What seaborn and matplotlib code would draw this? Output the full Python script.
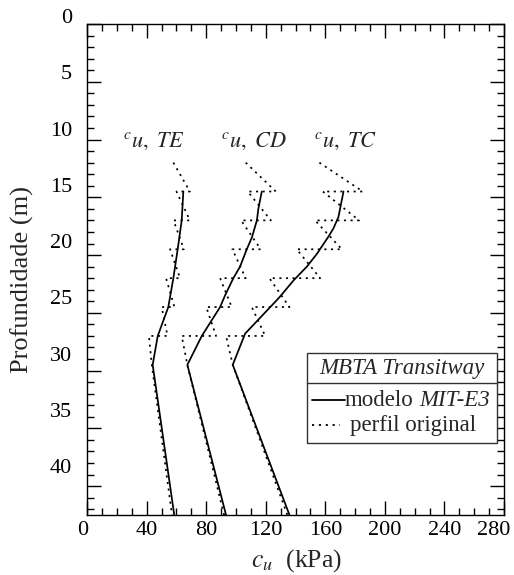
import matplotlib
matplotlib.use("Agg")
import matplotlib.pyplot as plt
import matplotlib.transforms as mtransforms
import seaborn as sns
import pandas as pd
from matplotlib.patches import Rectangle
from matplotlib.lines import Line2D
from matplotlib.ticker import MultipleLocator

# ---------------- data (cu in kPa, depth in m) ----------------
te_orig_cu = [57.9, 69.0, 60.0, 69.0, 58.0, 65.0, 55.7, 62.4, 53.0, 58.6, 50.0, 54.0, 41.5, 43.4, 57.0]
te_orig_z = [12.0, 14.5, 14.5, 17.0, 17.0, 19.5, 19.5, 22.0, 22.0, 24.5, 24.5, 27.0, 27.0, 29.5, 42.5]

cd_orig_cu = [106.5, 126.7, 107.9, 123.4, 103.4, 116.6, 97.5, 106.5, 89.3, 97.1, 80.0, 86.6, 63.5, 67.3, 92.0]
cd_orig_z = [12.0, 14.5, 14.5, 17.0, 17.0, 19.5, 19.5, 22.0, 22.0, 24.5, 24.5, 27.0, 27.0, 29.5, 42.5]

tc_orig_cu = [156.0, 185.2, 158.3, 182.7, 153.1, 171.1, 140.8, 156.5, 122.4, 135.9, 110.6, 119.6, 93.3, 97.8, 134.5]
tc_orig_z = [12.0, 14.5, 14.5, 17.0, 17.0, 19.5, 19.5, 22.0, 22.0, 24.5, 24.5, 27.0, 27.0, 29.5, 42.5]

te_mod_cu = [64.6, 63.5, 60.8, 57.9, 54.5, 47.4, 44.0, 58.5]
te_mod_z = [14.5, 17.0, 19.5, 22.0, 24.5, 27.0, 29.5, 42.5]

cd_mod_cu = [117.3, 115.0, 114.0, 110.6, 107.2, 102.7, 98.2, 92.6, 89.3, 77.0, 67.3, 93.3]
cd_mod_z = [14.5, 16.0, 17.0, 18.5, 19.5, 21.0, 22.0, 23.5, 24.5, 27.0, 29.5, 42.5]

tc_mod_cu = [172.2, 168.8, 165.4, 162.1, 154.3, 147.6, 138.6, 129.5, 127.4, 106.1, 97.8, 135.9]
tc_mod_z = [14.5, 16.7, 17.7, 18.4, 19.9, 21.0, 22.2, 23.6, 23.9, 26.8, 29.5, 42.5]

curve_labels = [r"${}^{c}u,\ TE$", r"${}^{c}u,\ CD$", r"${}^{c}u,\ TC$"]
curve_label_cu = [45.0, 112.0, 173.5]
curve_label_z = [10.2, 10.2, 10.2]

x_ticks = [0, 40, 80, 120, 160, 200, 240, 280]
y_ticks = [0, 5, 10, 15, 20, 25, 30, 35, 40]

legend_title = "MBTA Transitway"
legend_model_a = "modelo"
legend_model_b = "MIT-E3"
legend_orig = "perfil original"

x_label = r"$c_u$  (kPa)"
y_label = "Profundidade (m)"

# ---------------- style ----------------
sns.set_style("ticks")
plt.rcParams["font.family"] = ["Liberation Serif", "DejaVu Serif"]
plt.rcParams["mathtext.fontset"] = "stix"

fig = plt.figure(figsize=(5.14, 5.75), dpi=100)
ax = fig.add_axes([0.1696, 0.1043, 0.8109, 0.8540])

dotted = (0, (1.2, 2.6))
series = [
    (te_orig_cu, te_orig_z, dotted),
    (cd_orig_cu, cd_orig_z, dotted),
    (tc_orig_cu, tc_orig_z, dotted),
    (te_mod_cu, te_mod_z, "-"),
    (cd_mod_cu, cd_mod_z, "-"),
    (tc_mod_cu, tc_mod_z, "-"),
]
for cu, z, ls in series:
    df = pd.DataFrame({"cu": cu, "z": z})
    sns.lineplot(data=df, x="cu", y="z", sort=False, estimator=None,
                 color="black", linewidth=1.25, linestyle=ls, legend=False, ax=ax)

ax.set_xlim(0, 280)
ax.set_ylim(42.5, 0)
ax.set_xticks(x_ticks)
ax.set_yticks(y_ticks)
ax.xaxis.set_minor_locator(MultipleLocator(10))
ax.yaxis.set_minor_locator(MultipleLocator(1))
ax.tick_params(which="both", direction="in", top=True, right=True, colors="black")
ax.tick_params(which="major", length=10, width=1.0)
ax.tick_params(which="minor", length=5, width=1.0)
ax.tick_params(axis="x", which="major", labelsize=16, pad=4)
ax.tick_params(axis="y", which="major", labelsize=16, pad=11)
for sp in ax.spines.values():
    sp.set_linewidth(1.0)
    sp.set_color("black")

ax.set_xlabel(x_label, fontsize=18.5)
ax.set_ylabel(y_label, fontsize=19)
ax.xaxis.set_label_coords(0.503, -0.066)
ax.yaxis.set_label_coords(-0.128, 0.479)

fig.canvas.draw()
# y tick labels sit a little above their ticks in the reference
for lab, v in zip(ax.get_yticklabels(), y_ticks):
    dy = (8 + 0.3 * v) / 100.0
    lab.set_transform(lab.get_transform() + mtransforms.ScaledTranslation(0, dy, fig.dpi_scale_trans))
xl = ax.get_xticklabels()
xl[0].set_transform(xl[0].get_transform() + mtransforms.ScaledTranslation(-0.04, 0, fig.dpi_scale_trans))
xl[-1].set_transform(xl[-1].get_transform() + mtransforms.ScaledTranslation(-0.10, 0, fig.dpi_scale_trans))

for lab, xv, zv in zip(curve_labels, curve_label_cu, curve_label_z):
    ax.text(xv, zv, lab, fontsize=16, ha="center", va="center")

# ---------------- manual legend box ----------------
L, R, T, S, B = 0.527, 0.984, 0.3293, 0.2695, 0.146
ax.add_patch(Rectangle((L, B), R - L, T - B, transform=ax.transAxes,
                       facecolor="white", edgecolor="#333333", lw=1.0, zorder=5))
ax.add_line(Line2D([L, R], [S, S], transform=ax.transAxes, color="#333333", lw=1.0, zorder=6))
ax.text((L + R) / 2, (T + S) / 2, legend_title, transform=ax.transAxes,
        fontsize=16.5, style="italic", ha="center", va="center", zorder=6)
y1 = 1 - (400 - 24) / 491
y2 = 1 - (425 - 24) / 491
xs0 = (311.7 - 87.2) / 416.8
xs1 = (345 - 87.2) / 416.8
xs2 = (340 - 87.2) / 416.8
ax.add_line(Line2D([xs0, xs1], [y1, y1], transform=ax.transAxes, color="black", lw=1.3, zorder=6))
ax.add_line(Line2D([xs0, xs2], [y2, y2], transform=ax.transAxes, color="black", lw=1.3,
                   linestyle=dotted, zorder=6))
t_a = ax.text(xs1, y1 - 0.012, legend_model_a, transform=ax.transAxes, fontsize=16.5,
              ha="left", va="baseline", zorder=6)
ax.annotate(legend_model_b, xy=(1, 0), xycoords=t_a, xytext=(4, 0), textcoords="offset points",
            fontsize=16.5, style="italic", ha="left", va="bottom", zorder=6)
ax.text((350 - 87.2) / 416.8, y2 - 0.012, legend_orig, transform=ax.transAxes, fontsize=16.5,
        ha="left", va="baseline", zorder=6)

fig.savefig("out.png", dpi=100)
